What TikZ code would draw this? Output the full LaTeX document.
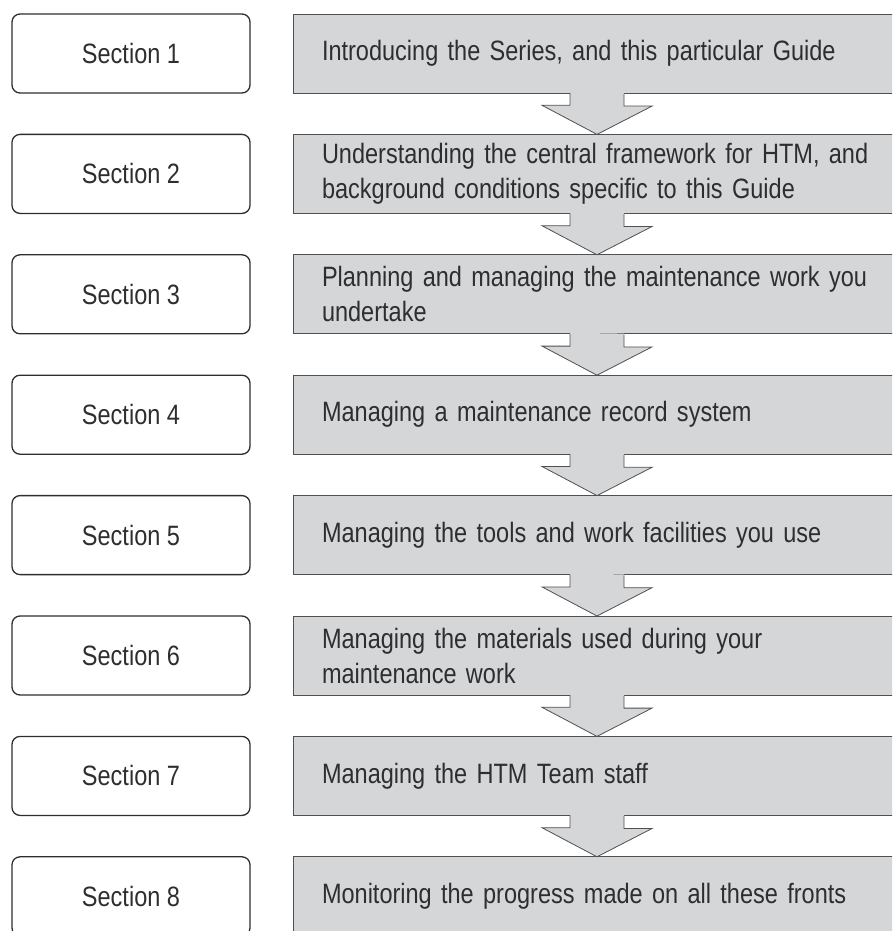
\documentclass[tikz,border=0pt]{standalone}
\usepackage{fontspec}
\setmainfont{Liberation Sans}[FakeStretch=0.84]
\definecolor{boxgray}{HTML}{D5D6D8}
\definecolor{inkgray}{HTML}{2E2E2E}
\definecolor{rulegray}{HTML}{505050}
\tikzset{
	sectionbox/.style={draw=inkgray,line width=1.3pt,rounded corners=8pt,rectangle,anchor=north west,
		minimum width=238pt,minimum height=79pt,outer sep=0pt,text=inkgray},
	topicbox/.style={draw=rulegray,line width=0.8pt,fill=boxgray,rectangle,anchor=north west,
		minimum height=79pt,inner xsep=29pt,text width=562pt,align=left,outer sep=0pt,text=inkgray},
}
\begin{document}
\begin{tikzpicture}[x=1pt,y=1pt,font=\fontsize{28pt}{35pt}\selectfont]

	\clip (0,0) rectangle (892,-931);
	\coordinate (axis) at (597,0);

	% left column
	\node[sectionbox] (sec1) at (12,-14.0) {Section 1};
	\node[sectionbox] (sec2) at (12,-134.4) {Section 2};
	\node[sectionbox] (sec3) at (12,-254.8) {Section 3};
	\node[sectionbox] (sec4) at (12,-375.2) {Section 4};
	\node[sectionbox] (sec5) at (12,-495.6) {Section 5};
	\node[sectionbox] (sec6) at (12,-616.0) {Section 6};
	\node[sectionbox] (sec7) at (12,-736.4) {Section 7};
	\node[sectionbox] (sec8) at (12,-856.8) {Section 8};

	% right column
	\node[topicbox] (topic1) at (293,-14.0) {Introducing the Series, and this particular Guide};
	\node[topicbox] (topic2) at (293,-134.4) {Understanding the central framework for HTM, and\\ background conditions specific to this Guide};
	\node[topicbox] (topic3) at (293,-254.8) {Planning and managing the maintenance work you\\ undertake};
	\node[topicbox] (topic4) at (293,-375.2) {Managing a maintenance record system};
	\node[topicbox] (topic5) at (293,-495.6) {Managing the tools and work facilities you use};
	\node[topicbox] (topic6) at (293,-616.0) {Managing the materials used during your\\ maintenance work};
	\node[topicbox] (topic7) at (293,-736.4) {Managing the HTM Team staff};
	\node[topicbox] (topic8) at (293,-856.8) {Monitoring the progress made on all these fronts};

	% block arrows
	\foreach \a/\b in {topic1/topic2,topic2/topic3,topic3/topic4,topic4/topic5,topic5/topic6,topic6/topic7,topic7/topic8}{
		\fill[boxgray] (axis |- \a.south) ++(-27,1) -- ++(0,-13.3) -- ++(-28,0) -- (axis |- \b.north)
			-- ++(55,28.3) -- ++(-28,0) -- ++(0,13.3) -- cycle;
		\draw[rulegray,line width=0.8pt,line join=miter] (axis |- \a.south) ++(-27,0) -- ++(0,-12.3) -- ++(-28,0)
			-- (axis |- \b.north) -- ++(55,28.3) -- ++(-28,0) -- ++(0,12.3);
	}

\end{tikzpicture}
\end{document}
